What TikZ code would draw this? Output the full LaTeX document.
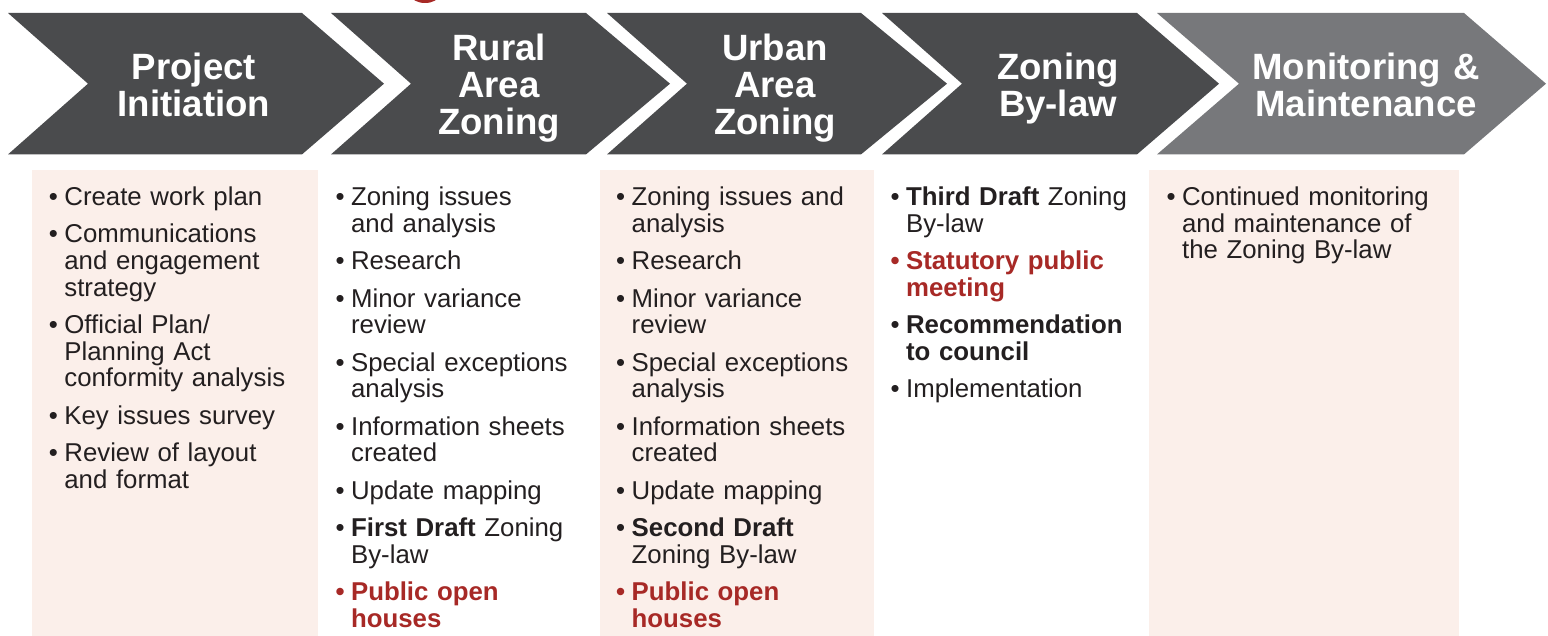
\documentclass[tikz,border=0pt]{standalone}
\usepackage{fontspec}
\setmainfont{Liberation Sans}
\definecolor{chevdark}{RGB}{74,75,77}
\definecolor{chevlight}{RGB}{119,120,123}
\definecolor{boxfill}{RGB}{251,239,234}
\definecolor{txt}{RGB}{35,31,32}
\definecolor{accent}{RGB}{167,41,38}
\newlength{\bulw}
\newcommand{\setbul}{\setlength{\bulw}{15.5pt}}
\newcommand{\itm}[2][]{\noindent\hangindent=\bulw\hangafter=1{#1\makebox[\bulw][l]{•}#2}\par\parskip=10.9pt\relax}
\newcommand{\itmr}[1]{\itm[\color{accent}\bfseries]{#1}}
\newcommand{\chevron}[5]{\fill[#5] (#1,13) -- (#3,13) -- (#4,83.7) -- (#3,154.4) -- (#1,154.4) -- (#2,83.7) -- cycle;}
\tikzset{
  chevtitle/.style={text=white, font=\fontsize{36.6}{36.8}\selectfont\bfseries, text width=300pt, align=center, anchor=base, inner sep=0pt},
  listtext/.style={text=txt, font=\fontsize{25.8}{26.6}\selectfont, text width=300pt, anchor=base west, inner sep=0pt},
  panel/.style={fill=boxfill}
}
\begin{document}
\begin{tikzpicture}[x=1pt,y=-1pt]
\useasboundingbox (0,0) rectangle (1548,636);
% title fragment at top edge
\fill[accent] (425,-5) ellipse [x radius=14, y radius=8];
% panels
\fill[panel] (32,170) rectangle (318,636);
\fill[panel] (600,170) rectangle (874,636);
\fill[panel] (1149,170) rectangle (1459,636);
% chevrons
\chevron{8}{88}{302}{384}{chevdark}
\chevron{331}{411}{586}{670}{chevdark}
\chevron{607}{687}{861}{947}{chevdark}
\chevron{882}{962}{1137}{1219}{chevdark}
\chevron{1157}{1239}{1464}{1546}{chevlight}
% titles
\node[chevtitle] (t1) at (194,79.3) {Project\\Initiation};
\node[chevtitle] (t2) at (499,61) {Rural\\Area\\Zoning};
\node[chevtitle] (t3) at (775,61) {Urban\\Area\\Zoning};
\node[chevtitle] (t4) at (1058,79.3) {Zoning\\By-law};
\node[chevtitle] (t5) at (1366,79.3) {Monitoring \&\\Maintenance};
% lists
\node[listtext] (l1) at (48.7,205.5) {\setbul
\itm{Create work plan}
\itm{Communications\newline and engagement\newline strategy}
\itm{Official Plan/\newline Planning Act\newline conformity analysis}
\itm{Key issues survey}
\itm{Review of layout\newline and format}};
\node[listtext] (l2) at (335.4,205.5) {\setbul
\itm{Zoning issues\newline and analysis}
\itm{Research}
\itm{Minor variance\newline review}
\itm{Special exceptions\newline analysis}
\itm{Information sheets\newline created}
\itm{Update mapping}
\itm{\textbf{First Draft} Zoning\newline By-law}
\itmr{Public open\newline houses}};
\node[listtext] (l3) at (616,205.5) {\setbul
\itm{Zoning issues and\newline analysis}
\itm{Research}
\itm{Minor variance\newline review}
\itm{Special exceptions\newline analysis}
\itm{Information sheets\newline created}
\itm{Update mapping}
\itm{\textbf{Second Draft}\newline Zoning By-law}
\itmr{Public open\newline houses}};
\node[listtext] (l4) at (890.4,205.5) {\setbul
\itm{\textbf{Third Draft} Zoning\newline By-law}
\itmr{Statutory public\newline meeting}
\itm{\textbf{Recommendation\newline to council}}
\itm{Implementation}};
\node[listtext] (l5) at (1166.4,205.5) {\setbul
\itm{Continued monitoring\newline and maintenance of\newline the Zoning By-law}};
\end{tikzpicture}
\end{document}
